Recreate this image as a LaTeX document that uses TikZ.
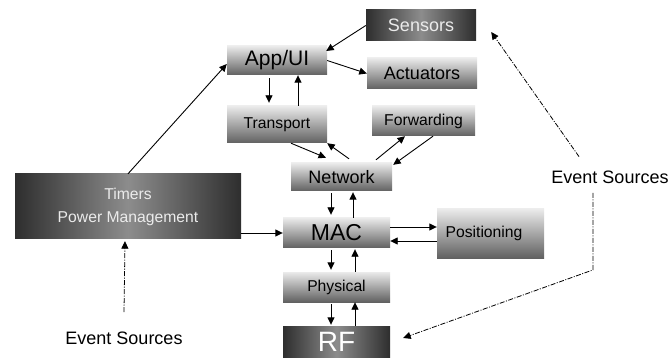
\documentclass[tikz,border=0pt]{standalone}
\usepackage{fontspec}
\setmainfont{Liberation Sans}
\usetikzlibrary{arrows.meta,calc}
\tikzset{
  lightbox/.style={rectangle, inner sep=0pt, top color=black!8, bottom color=black!62, draw=none, text=black},
  darkbox/.style={rectangle, inner sep=0pt, left color=black!82, right color=black!82, middle color=black!45, draw=none, text=white!92!black},
  conn/.style={line width=0.9pt, -{Triangle[length=7.5pt,width=7pt]}},
  evt/.style={line width=0.8pt, dash pattern=on 5pt off 1.5pt on 1pt off 1.5pt, -{Triangle[length=7.5pt,width=7pt]}},
  fsmall/.style={font=\fontsize{15.7pt}{18pt}\selectfont},
  fmed/.style={font=\fontsize{18pt}{21pt}\selectfont},
}
\begin{document}
\begin{tikzpicture}[x=1pt,y=-1pt]
\useasboundingbox (0,0) rectangle (672,358);
% boxes
\node[darkbox, fmed, minimum width=110pt, minimum height=31pt] (Sensors) at (421,25.5) {Sensors};
\node[lightbox, font=\fontsize{21pt}{24pt}\selectfont, minimum width=100pt, minimum height=29pt] (AppUI) at (277,60.5) {App/UI};
\node[lightbox, fmed, minimum width=110pt, minimum height=31pt] (Actuators) at (422,73.5) {Actuators};
\node[lightbox, fsmall, minimum width=100pt, minimum height=37pt] (Transport) at (277,124.5) {Transport};
\node[lightbox, fsmall, minimum width=103pt, minimum height=30pt] (Forwarding) at (423.5,121) {Forwarding};
\node[lightbox, fmed, minimum width=101pt, minimum height=28pt] (Network) at (341.5,177) {Network};
\node[lightbox, font=\fontsize{23pt}{26pt}\selectfont, minimum width=107pt, minimum height=30pt] (MAC) at (336.5,233) {MAC};
\node[lightbox, minimum width=107pt, minimum height=49pt] (Positioning) at (490.5,233.5) {};
\node[fsmall, text=black] (PosText) at (484,233.5) {Positioning};
\node[lightbox, fsmall, minimum width=107pt, minimum height=30pt] (Physical) at (336.5,287) {Physical};
\node[darkbox, font=\fontsize{28pt}{30pt}\selectfont, text=white, minimum width=107pt, minimum height=32pt] (RF) at (336.5,342) {RF};
\node[darkbox, font=\fontsize{15.7pt}{23pt}\selectfont, align=center, minimum width=226pt, minimum height=65pt] (Timers) at (128,206.5) {Timers\\Power Management};
\node[fmed] (ES1) at (124,338) {Event Sources};
\node[fmed] (ES2) at (610,177.5) {Event Sources};
% connectors
\draw[conn] (Sensors.west) -- ($(AppUI.east)+(-1,-9.5)$);
\draw[conn] (AppUI.east) -- (Actuators.west);
\draw[conn] ($(AppUI.south)+(-8,3)$) -- ($(Transport.north)+(-8,-3)$);
\draw[conn] ($(Transport.north)+(21,0)$) -- ($(AppUI.south)+(21,0)$);
\draw[conn] ($(Transport.south)+(14,0)$) -- ($(Network.north)+(-15.5,-5)$);
\draw[conn] ($(Network.north)+(7.5,-4)$) -- (Transport.south east);
\draw[conn] ($(Network.north)+(34.5,-3)$) -- ($(Forwarding.south)+(-18.5,0)$);
\draw[conn] ($(Forwarding.south)+(9.5,0)$) -- ($(Network.north east)+(1,2)$);
\draw[conn] ($(Network.south)+(-10.5,2)$) -- ($(MAC.north)+(-5.5,-3)$);
\draw[conn] ($(MAC.north)+(16.5,0)$) -- ($(Network.south)+(11.5,1)$);
\draw[conn] (Timers.north) -- ($(AppUI.west)+(0,3.5)$);
\draw[conn] (Timers.east |- MAC.west) -- (MAC.west);
\draw[conn] ($(MAC.east)+(0,-6)$) -- ($(Positioning.west)+(0,-6.5)$);
\draw[conn] ($(Positioning.west)+(0,7.5)$) -- ($(MAC.east)+(0,8)$);
\draw[conn] ($(MAC.south)+(-5.5,2)$) -- ($(Physical.north)+(-5.5,-2)$);
\draw[conn] ($(Physical.north)+(18.5,0)$) -- ($(MAC.south)+(18.5,1)$);
\draw[conn] ($(Physical.south)+(-5.5,2)$) -- ($(RF.north)+(-5.5,-1)$);
\draw[conn] ($(RF.north)+(18.5,0)$) -- ($(Physical.south)+(18.5,0)$);
% event sources
\draw[evt] ($(ES1.north)+(0,-16)$) -- ($(Timers.south)+(-3,2)$);
\coordinate (e2a) at ($(ES2.north)+(-31,-11)$);
\coordinate (e2b) at ($(Sensors.east)+(15,6.5)$);
\draw[evt] (e2a) -- (e2b);
\coordinate (e2c) at ($(ES2.south)+(-17,5.5)$);
\coordinate (e2d) at ($(ES2.south)+(-17,82.5)$);
\coordinate (e2e) at ($(RF.east)+(13,-4)$);
\draw[evt] (e2c) -- (e2d) -- (e2e);
\end{tikzpicture}
\end{document}
